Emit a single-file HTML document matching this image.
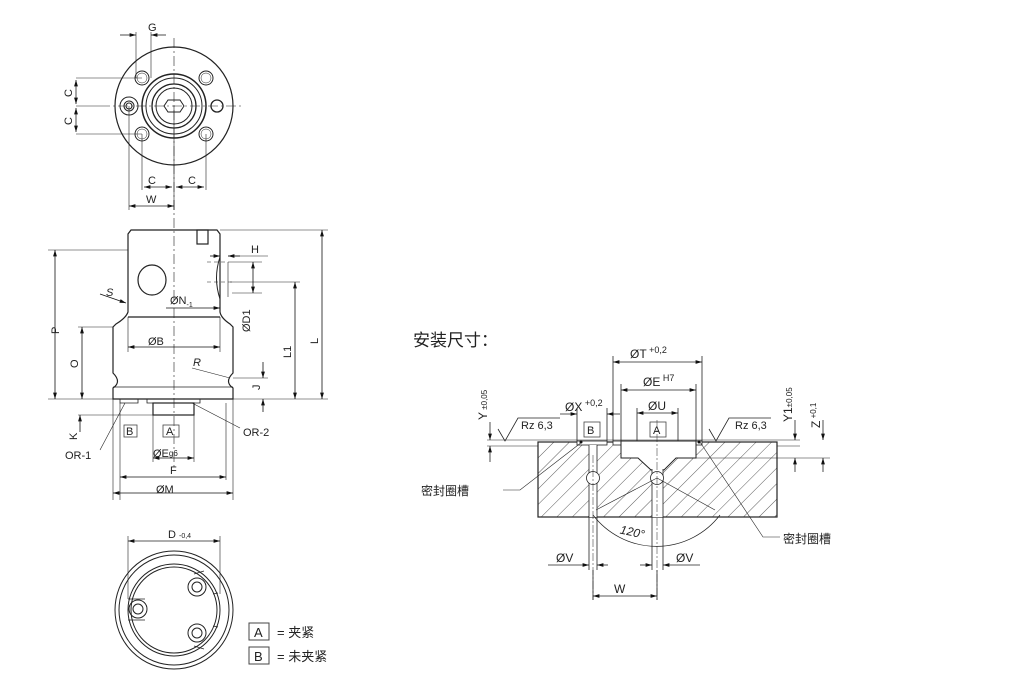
<!DOCTYPE html>
<html><head><meta charset="utf-8"><style>
html,body{margin:0;padding:0;background:#fff;}
svg{display:block;}
text{font-family:"Liberation Sans","Noto Sans CJK SC",sans-serif;fill:#222;}
</style></head><body>
<svg width="1011" height="697" viewBox="0 0 1011 697" xmlns="http://www.w3.org/2000/svg">
<defs>
<marker id="a" viewBox="0 0 10 6" refX="10" refY="3" markerWidth="8" markerHeight="5" orient="auto-start-reverse"><path d="M0,0L10,3L0,6z" fill="#111"/></marker>
<pattern id="h" width="11" height="11" patternUnits="userSpaceOnUse" patternTransform="rotate(45)"><line x1="0" y1="0" x2="0" y2="11" stroke="#333" stroke-width="0.8"/></pattern>
</defs>
<g fill="none" stroke="#222" stroke-width="1">
<!-- TOP VIEW -->
<circle cx="174" cy="106" r="59" stroke-width="1.2"/>
<circle cx="174" cy="106" r="32" stroke-width="1.5"/>
<circle cx="174" cy="106" r="28"/>
<circle cx="174" cy="106" r="22" stroke-width="1.3"/>
<circle cx="174" cy="106" r="18"/>
<path d="M168,100 L180,100 L184,106 L180,112 L168,112 L164,106Z"/>
<circle cx="142" cy="78" r="7"/><circle cx="142" cy="78" r="5" stroke-width=".5"/>
<circle cx="206" cy="78" r="7"/><circle cx="206" cy="78" r="5" stroke-width=".5"/>
<circle cx="142" cy="134" r="7"/><circle cx="142" cy="134" r="5" stroke-width=".5"/>
<circle cx="206" cy="134" r="7"/><circle cx="206" cy="134" r="5" stroke-width=".5"/>
<circle cx="129" cy="106" r="9"/><circle cx="129" cy="106" r="5"/><circle cx="129" cy="106" r="3"/>
<circle cx="217" cy="106" r="6" stroke-width="1.3"/>
<g stroke-width=".6">
<line x1="174" y1="38" x2="174" y2="212" stroke-dasharray="10,3,2,3"/>
<line x1="100" y1="106" x2="242" y2="106" stroke-dasharray="10,3,2,3"/>
<line x1="76" y1="78" x2="142" y2="78"/><line x1="76" y1="134" x2="142" y2="134"/>
<line x1="76" y1="106" x2="100" y2="106"/>
<line x1="136" y1="32" x2="136" y2="78"/><line x1="151" y1="32" x2="151" y2="78"/>
<line x1="142" y1="134" x2="142" y2="190"/><line x1="206" y1="134" x2="206" y2="190"/>
<line x1="129" y1="106" x2="129" y2="210"/><line x1="174" y1="106" x2="174" y2="210"/>
</g>
<g stroke-width=".8">
<line x1="120" y1="35" x2="136" y2="35" marker-end="url(#a)"/><line x1="166" y1="35" x2="151" y2="35" marker-end="url(#a)"/>
<line x1="76" y1="80" x2="76" y2="104" marker-start="url(#a)" marker-end="url(#a)"/>
<line x1="76" y1="108" x2="76" y2="132" marker-start="url(#a)" marker-end="url(#a)"/>
<line x1="144" y1="187" x2="172" y2="187" marker-start="url(#a)" marker-end="url(#a)"/>
<line x1="176" y1="187" x2="204" y2="187" marker-start="url(#a)" marker-end="url(#a)"/>
<line x1="129" y1="206" x2="174" y2="206" marker-start="url(#a)" marker-end="url(#a)"/>
</g>
</g>
<g font-size="11">
<text x="148" y="31">G</text>
<text x="72" y="93" transform="rotate(-90 72 93)" text-anchor="middle">C</text>
<text x="72" y="121" transform="rotate(-90 72 121)" text-anchor="middle">C</text>
<text x="148" y="184">C</text><text x="188" y="184">C</text>
<text x="146" y="203">W</text>
</g>

<!-- SIDE VIEW -->
<g fill="none" stroke="#222" stroke-width="1.2">
<path d="M131,230 L217,230 L220,234 L220,312 Q221,318 230,324 L233,327 L233,373 Q224,382 233,388 L233,399 L113,399 L113,388 Q122,382 113,373 L113,327 L116,324 Q126,318 128,312 L128,234 Z"/>
<line x1="128" y1="317" x2="220" y2="317"/>
<line x1="113" y1="387" x2="233" y2="387" stroke-width=".8"/>
<rect x="197" y="230" width="11" height="14"/>
<ellipse cx="152" cy="280" rx="14" ry="15"/>
<path d="M220,257 Q213,278 220,299" stroke-width="1"/>
<rect x="153" y="403" width="41" height="12"/>
<path d="M120,399 L120,403 L138,403 L138,399 M147,399 L147,403 L200,403 L200,399" stroke-width=".8"/>
</g>
<g fill="none" stroke="#222" stroke-width=".6">
<line x1="174" y1="200" x2="174" y2="470" stroke-dasharray="10,3,2,3"/>
<line x1="207" y1="262" x2="232" y2="262" stroke-dasharray="4,3"/>
<line x1="207" y1="282" x2="232" y2="282" stroke-dasharray="4,3"/>
<line x1="228" y1="262" x2="228" y2="297"/>
<line x1="220" y1="230" x2="328" y2="230"/>
<line x1="48" y1="250" x2="128" y2="250"/>
<line x1="230" y1="282" x2="300" y2="282"/>
<line x1="48" y1="399" x2="328" y2="399"/>
<line x1="78" y1="327" x2="113" y2="327"/>
<line x1="78" y1="415" x2="153" y2="415"/>
<line x1="232" y1="262" x2="262" y2="262"/>
<line x1="232" y1="293" x2="262" y2="293"/>
<line x1="228" y1="256" x2="268" y2="256"/>
<line x1="233" y1="378" x2="268" y2="378"/>
<line x1="120" y1="403" x2="120" y2="500"/><line x1="226" y1="403" x2="226" y2="480"/>
<line x1="113" y1="399" x2="113" y2="500"/><line x1="233" y1="399" x2="233" y2="500"/>
<line x1="153" y1="415" x2="153" y2="462"/><line x1="194" y1="415" x2="194" y2="462"/>
<line x1="128" y1="317" x2="128" y2="352"/><line x1="220" y1="317" x2="220" y2="352"/>
<line x1="230" y1="378" x2="192" y2="368"/>
<line x1="125" y1="403" x2="100" y2="450"/>
<line x1="192" y1="403" x2="240" y2="428"/>
</g>
<g fill="none" stroke="#111" stroke-width=".8">
<line x1="322" y1="230" x2="322" y2="399" marker-start="url(#a)" marker-end="url(#a)"/>
<line x1="295" y1="282" x2="295" y2="399" marker-start="url(#a)" marker-end="url(#a)"/>
<line x1="55" y1="250" x2="55" y2="399" marker-start="url(#a)" marker-end="url(#a)"/>
<line x1="82" y1="327" x2="82" y2="399" marker-start="url(#a)" marker-end="url(#a)"/>
<line x1="263" y1="362" x2="263" y2="378" marker-end="url(#a)"/><line x1="263" y1="412" x2="263" y2="399" marker-end="url(#a)"/>
<line x1="80" y1="432" x2="80" y2="415" marker-end="url(#a)"/>
<line x1="253" y1="262" x2="253" y2="293" marker-start="url(#a)" marker-end="url(#a)"/>
<line x1="210" y1="256" x2="220" y2="256" marker-end="url(#a)"/><line x1="240" y1="256" x2="228" y2="256" marker-end="url(#a)"/>
<line x1="166" y1="308" x2="220" y2="308" marker-end="url(#a)"/>
<line x1="128" y1="347" x2="220" y2="347" marker-start="url(#a)" marker-end="url(#a)"/>
<line x1="153" y1="458" x2="194" y2="458" marker-start="url(#a)" marker-end="url(#a)"/>
<line x1="120" y1="477" x2="226" y2="477" marker-start="url(#a)" marker-end="url(#a)"/>
<line x1="113" y1="493" x2="233" y2="493" marker-start="url(#a)" marker-end="url(#a)"/>
<line x1="100" y1="294" x2="126" y2="303" marker-end="url(#a)"/>
</g>
<g font-size="11">
<text x="59" y="334" transform="rotate(-90 59 334)">P</text>
<text x="78" y="368" transform="rotate(-90 78 368)">O</text>
<text x="291" y="358" transform="rotate(-90 291 358)">L1</text>
<text x="318" y="344" transform="rotate(-90 318 344)">L</text>
<text x="260" y="390" transform="rotate(-90 260 390)">J</text>
<text x="77" y="440" transform="rotate(-90 77 440)">K</text>
<text x="251" y="253">H</text>
<text x="250" y="332" transform="rotate(-90 250 332)">ØD1</text>
<text x="170" y="304">ØN<tspan font-size="7" dy="3">-1</tspan></text>
<text x="148" y="345">ØB</text>
<text x="193" y="366" font-style="italic">R</text>
<text x="106" y="296" font-style="italic">S</text>
<text x="65" y="459">OR-1</text>
<text x="243" y="436">OR-2</text>
<text x="153" y="457">ØE<tspan font-size="8" dy="-1">g6</tspan></text>
<text x="170" y="474">F</text>
<text x="156" y="493">ØM</text>
</g>
<g fill="none" stroke="#444" stroke-width=".8">
<rect x="124" y="425" width="13" height="12"/><rect x="163" y="425" width="16" height="12"/>
</g>
<text x="126" y="435" font-size="11">B</text><text x="166" y="435" font-size="11">A</text>

<!-- BOTTOM VIEW -->
<g fill="none" stroke="#222" stroke-width="1">
<circle cx="174" cy="610" r="59"/><circle cx="174" cy="610" r="55"/>
<circle cx="174" cy="610" r="46"/><circle cx="174" cy="610" r="43"/>
<circle cx="138" cy="609" r="9"/><circle cx="138" cy="609" r="5"/>
<circle cx="197" cy="587" r="9"/><circle cx="197" cy="587" r="5"/>
<circle cx="197" cy="633" r="9"/><circle cx="197" cy="633" r="5"/>
<path d="M128,599 L145,599 M128,620 L145,620 M194,574 L204,571 M213,594 L218,593 M194,646 L204,649 M213,626 L218,627" stroke-width=".7"/>
<line x1="128" y1="599" x2="128" y2="536" stroke-width=".6"/><line x1="220" y1="594" x2="220" y2="536" stroke-width=".6"/>
<line x1="128" y1="541" x2="220" y2="541" stroke-width=".8" marker-start="url(#a)" marker-end="url(#a)"/>
<rect x="249" y="623" width="20" height="17" stroke="#444"/>
<rect x="249" y="647" width="20" height="17" stroke="#444"/>
</g>
<text x="168" y="538" font-size="11">D <tspan font-size="7">-0,4</tspan></text>
<text x="254" y="637" font-size="13">A</text><text x="254" y="661" font-size="13">B</text>
<text x="277" y="637" font-size="13">= 夹紧</text>
<text x="277" y="661" font-size="13">= 未夹紧</text>

<!-- INSTALL SECTION -->
<text x="413" y="346" font-size="17">安装尺寸：</text>
<rect x="538" y="442" width="239" height="75" fill="url(#h)" stroke="#222" stroke-width="1.2"/>
<g fill="#fff" stroke="#222" stroke-width="1">
<rect x="577" y="441" width="30" height="4" stroke-width=".8"/>
<rect x="613" y="441" width="89" height="4" stroke-width=".8"/>
<path d="M621,441 L621,458 L638,458 L651,470 L664,470 L676,458 L696,458 L696,441 Z"/>
<rect x="589" y="445" width="8" height="72" stroke="none"/>
<rect x="652" y="460" width="11" height="57" stroke="none"/>
</g>
<g fill="none" stroke="#222" stroke-width=".8">
<line x1="589" y1="445" x2="589" y2="570"/><line x1="597" y1="445" x2="597" y2="570"/>
<line x1="652" y1="469" x2="652" y2="570"/><line x1="663" y1="469" x2="663" y2="570"/>
<circle cx="593" cy="478" r="6.5" fill="#fff"/><circle cx="657" cy="478" r="6.5" fill="#fff"/>
<line x1="487" y1="440" x2="800" y2="440" stroke-width=".6"/>
<line x1="487" y1="446" x2="538" y2="446" stroke-width=".6"/>
<line x1="777" y1="446" x2="800" y2="446" stroke-width=".6"/>
<line x1="696" y1="458" x2="830" y2="458" stroke-width=".6"/>
<line x1="593" y1="455" x2="593" y2="600" stroke-dasharray="8,2,2,2" stroke-width=".5"/>
<line x1="657" y1="420" x2="657" y2="600" stroke-dasharray="8,2,2,2" stroke-width=".5"/>
<path d="M593,515 A80,80 0 0 0 720,515" stroke-width=".7"/>
<line x1="596" y1="510" x2="657" y2="478" stroke-width=".6"/>
<line x1="715" y1="510" x2="657" y2="478" stroke-width=".6"/>
<line x1="613" y1="441" x2="613" y2="356"/><line x1="702" y1="441" x2="702" y2="356"/>
<line x1="621" y1="441" x2="621" y2="384"/><line x1="696" y1="441" x2="696" y2="384"/>
<line x1="637" y1="441" x2="637" y2="408"/><line x1="678" y1="441" x2="678" y2="408"/>
<line x1="577" y1="441" x2="577" y2="408"/><line x1="607" y1="441" x2="607" y2="408"/>
<line x1="593" y1="570" x2="593" y2="600"/><line x1="657" y1="570" x2="657" y2="600"/>
<line x1="613" y1="362" x2="702" y2="362" marker-start="url(#a)" marker-end="url(#a)"/>
<line x1="621" y1="390" x2="696" y2="390" marker-start="url(#a)" marker-end="url(#a)"/>
<line x1="637" y1="413" x2="678" y2="413" marker-start="url(#a)" marker-end="url(#a)"/>
<line x1="560" y1="414" x2="577" y2="414" marker-end="url(#a)"/><line x1="620" y1="414" x2="607" y2="414" marker-end="url(#a)"/>
<line x1="490" y1="422" x2="490" y2="440" marker-end="url(#a)"/><line x1="490" y1="462" x2="490" y2="446" marker-end="url(#a)"/>
<line x1="795" y1="420" x2="795" y2="440" marker-end="url(#a)"/><line x1="795" y1="472" x2="795" y2="458" marker-end="url(#a)"/>
<line x1="823" y1="420" x2="823" y2="440" marker-end="url(#a)"/><line x1="823" y1="472" x2="823" y2="458" marker-end="url(#a)"/>
<line x1="548" y1="565" x2="589" y2="565" marker-end="url(#a)"/><line x1="608" y1="565" x2="597" y2="565" marker-end="url(#a)"/>
<line x1="640" y1="565" x2="652" y2="565" marker-end="url(#a)"/><line x1="700" y1="565" x2="663" y2="565" marker-end="url(#a)"/>
<line x1="593" y1="596" x2="657" y2="596" marker-start="url(#a)" marker-end="url(#a)"/>
<path d="M498,429 L505,441 L518,418 L560,418"/>
<path d="M709,429 L716,441 L729,418 L771,418"/>
<path d="M503,490 L520,490 L582,442" stroke-width=".6"/>
<path d="M780,537 L763,537 L700,442" stroke-width=".6"/>
<rect x="584" y="422" width="16" height="15" stroke="#444"/>
<rect x="650" y="422" width="16" height="15" stroke="#444"/>
</g>
<circle cx="581" cy="442" r="1.5" fill="#111"/><circle cx="699" cy="442" r="1.5" fill="#111"/>
<g font-size="12">
<text x="630" y="358">ØT<tspan font-size="9" dy="-5"> +0,2</tspan></text>
<text x="643" y="386">ØE<tspan font-size="9" dy="-5"> H7</tspan></text>
<text x="648" y="410">ØU</text>
<text x="565" y="411">ØX<tspan font-size="9" dy="-5"> +0,2</tspan></text>
<text x="587" y="434" font-size="11">B</text><text x="653" y="434" font-size="11">A</text>
<text x="521" y="429" font-size="11">Rz 6,3</text><text x="735" y="429" font-size="11">Rz 6,3</text>
<text x="487" y="420" transform="rotate(-90 487 420)">Y<tspan font-size="8"> ±0,05</tspan></text>
<text x="792" y="422" transform="rotate(-90 792 422)">Y1<tspan font-size="8">±0,05</tspan></text>
<text x="820" y="428" transform="rotate(-90 820 428)">Z<tspan font-size="8" dy="-4"> +0,1</tspan></text>
<text x="620" y="536" font-style="italic" transform="rotate(12 632 532)">120°</text>
<text x="556" y="562">ØV</text><text x="676" y="562">ØV</text>
<text x="614" y="593">W</text>
<text x="421" y="495" font-size="12">密封圈槽</text>
<text x="783" y="543" font-size="12">密封圈槽</text>
</g>
</svg>
</body></html>
